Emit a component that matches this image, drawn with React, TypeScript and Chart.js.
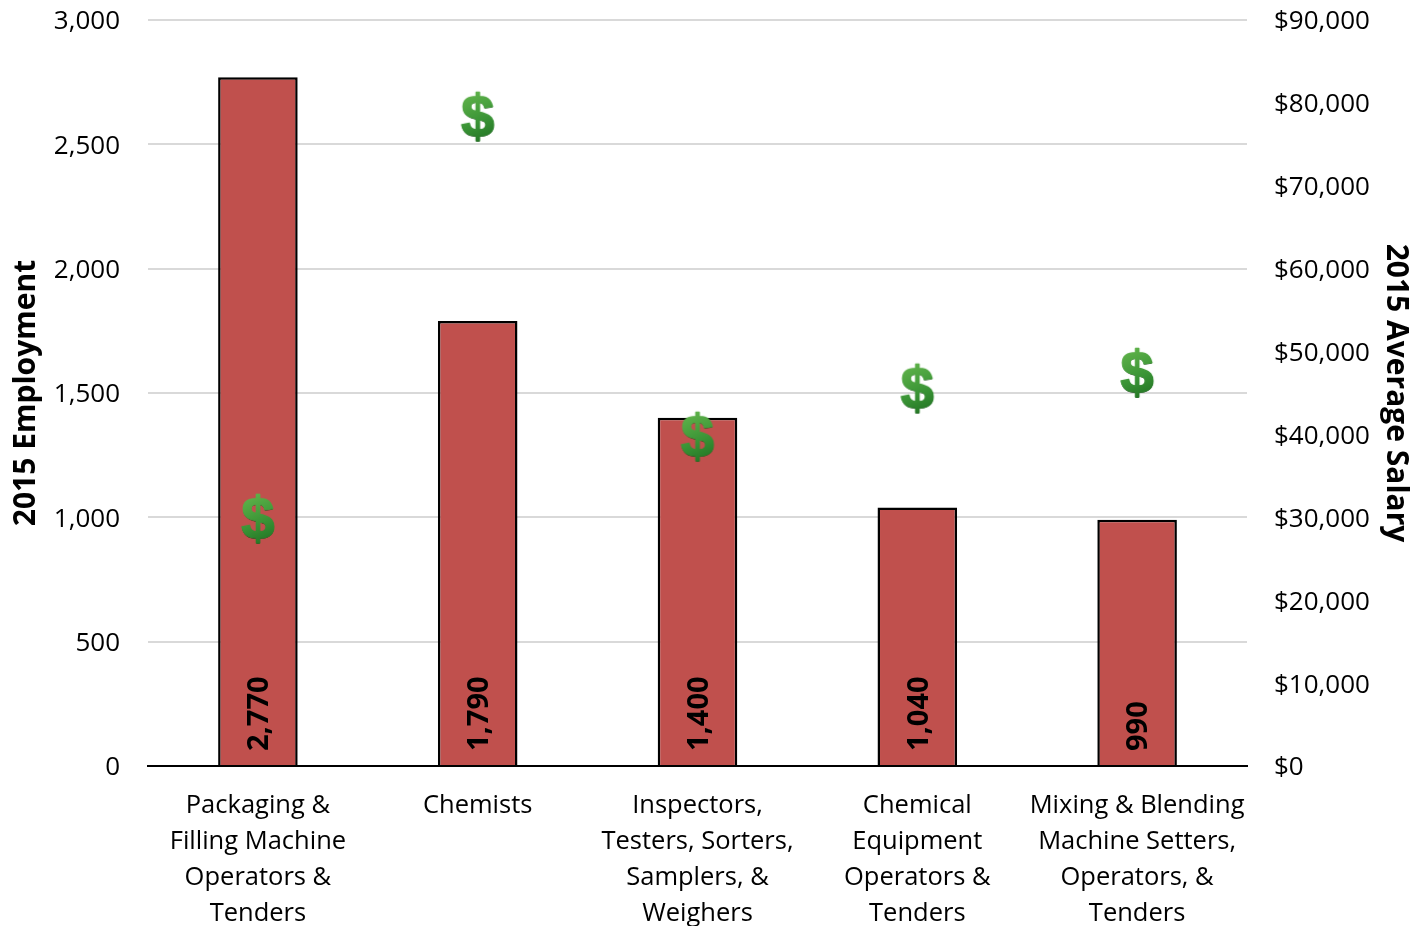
import React, { useEffect, useRef } from "react";
import { Chart, registerables } from "chart.js";

Chart.register(...registerables);

const categories = [
  ["Packaging &", "Filling Machine", "Operators &", "Tenders"],
  ["Chemists"],
  ["Inspectors,", "Testers, Sorters,", "Samplers, &", "Weighers"],
  ["Chemical", "Equipment", "Operators &", "Tenders"],
  ["Mixing & Blending", "Machine Setters,", "Operators, &", "Tenders"],
];
const employment = [2770, 1790, 1400, 1040, 990];
const salary = [29700, 78200, 39600, 45400, 47300];
const FONT = '"Open Sans"';

function dollarSign(): HTMLCanvasElement {
  const c = document.createElement("canvas");
  c.width = 48;
  c.height = 72;
  const g = c.getContext("2d")!;
  g.font = `bold 60px "Liberation Sans"`;
  g.textAlign = "center";
  g.textBaseline = "middle";
  g.lineJoin = "round";
  const grad = g.createLinearGradient(10, 8, 36, 66);
  grad.addColorStop(0, "#66b84e");
  grad.addColorStop(0.55, "#3a9436");
  grad.addColorStop(1, "#1c6b1f");
  g.fillStyle = "#0c2a0c";
  g.fillText("$", 24, 39.5);
  g.fillStyle = grad;
  g.strokeStyle = grad;
  g.lineWidth = 1.5;
  g.strokeText("$", 24, 38.5);
  g.fillText("$", 24, 38.5);
  return c;
}

const barLabels = {
  id: "barLabels",
  afterDatasetsDraw(chart: any) {
    const { ctx } = chart;
    const meta = chart.getDatasetMeta(1);
    const base = chart.scales.y.getPixelForValue(0);
    ctx.save();
    ctx.font = `bold 29px ${FONT}`;
    ctx.fillStyle = "#000";
    ctx.textAlign = "left";
    ctx.textBaseline = "middle";
    meta.data.forEach((el: any, i: number) => {
      ctx.save();
      ctx.translate(el.x + 2, base - 15);
      ctx.rotate(-Math.PI / 2);
      ctx.fillText(employment[i].toLocaleString("en-US"), 0, 0);
      ctx.restore();
    });
    ctx.restore();
  },
};

export default function App() {
  const ref = useRef<HTMLCanvasElement>(null);
  useEffect(() => {
    const chart = new Chart(ref.current!, {
      type: "bar",
      data: {
        labels: categories as any,
        datasets: [
          {
            type: "line",
            label: "2015 Average Salary",
            data: salary,
            yAxisID: "y1",
            showLine: false,
            pointStyle: dollarSign() as any,
            order: 0,
          },
          {
            type: "bar",
            label: "2015 Employment",
            data: employment,
            yAxisID: "y",
            backgroundColor: "#c0504d",
            borderColor: "#000",
            borderWidth: 2.5,
            barPercentage: 0.362,
            categoryPercentage: 1,
            order: 1,
          },
        ] as any,
      },
      options: {
        responsive: false,
        animation: false,
        plugins: { legend: { display: false }, tooltip: { enabled: false } },
        scales: {
          x: {
            grid: { display: false },
            border: { color: "#000", width: 2 },
            ticks: {
              font: { family: FONT, size: 25.5, lineHeight: 1.412 },
              color: "#000",
              maxRotation: 0,
              autoSkip: false,
              padding: 14,
            },
            afterFit(s: any) {
              s.height = 160;
            },
          },
          y: {
            position: "left",
            min: 0,
            max: 3000,
            grid: { color: "#d9d9d9", lineWidth: 2, drawTicks: false },
            border: { display: false },
            ticks: {
              stepSize: 500,
              font: { family: FONT, size: 26 },
              color: "#000",
              padding: 28,
              labelOffset: 2,
              callback: (v: any) => Number(v).toLocaleString("en-US"),
            },
            title: {
              display: true,
              text: "2015 Employment",
              font: { family: FONT, size: 30, weight: "bold" },
              color: "#000",
              padding: { top: 8, bottom: 0 },
            },
            afterFit(s: any) {
              s.width = 148;
              s.paddingTop = 20;
              s.paddingBottom = 0;
            },
          },
          y1: {
            position: "right",
            min: 0,
            max: 90000,
            grid: { display: false, drawTicks: false },
            border: { display: false },
            ticks: {
              stepSize: 10000,
              font: { family: FONT, size: 26 },
              color: "#000",
              padding: 27,
              labelOffset: 2,
              callback: (v: any) => "$" + Number(v).toLocaleString("en-US"),
            },
            title: {
              display: true,
              text: "2015 Average Salary",
              font: { family: FONT, size: 30, weight: "bold" },
              color: "#000",
              padding: 0,
            },
            afterFit(s: any) {
              s.width = 167;
              s.paddingTop = 20;
              s.paddingBottom = 0;
            },
          },
        },
      } as any,
      plugins: [barLabels],
    });
    return () => chart.destroy();
  }, []);
  return (
    <div style={{ position: "absolute", left: 0, top: 0, width: 1414, height: 926, overflow: "hidden", background: "#fff" }}>
      <canvas ref={ref} width={1414} height={926} style={{ display: "block" }} />
    </div>
  );
}
